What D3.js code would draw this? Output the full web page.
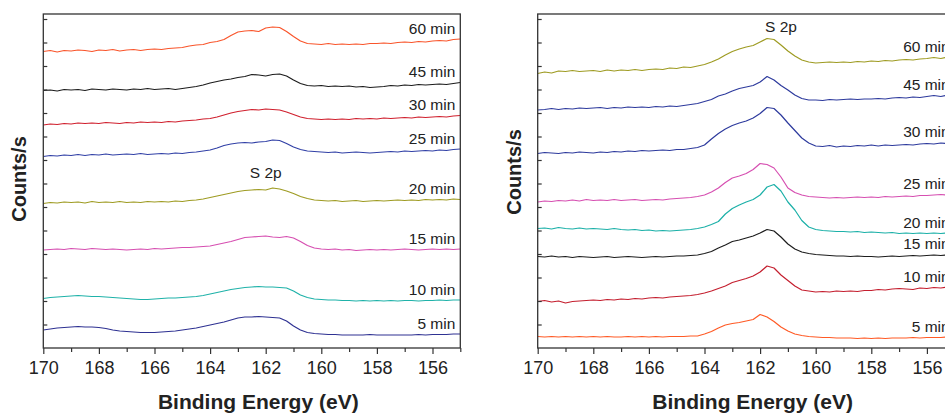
<!DOCTYPE html>
<html>
<head>
<meta charset="utf-8">
<script src="https://cdn.jsdelivr.net/npm/d3@7/dist/d3.min.js"></script>
<style>
  html, body { margin: 0; padding: 0; background: #fff; }
  svg { display: block; }
  text { font-family: "Liberation Sans", Arial, Helvetica, sans-serif; }
</style>
</head>
<body>
<svg id="chart" width="945" height="416"></svg>
<script>
// ---------- DATA ----------
// Binding energy grid: 170 eV down to 155 eV, step 0.25 eV (61 points)
const energyStart = 170, energyStep = 0.25;
const xTickMajor = [170, 168, 166, 164, 162, 160, 158, 156];
const xTickMinor = [169, 167, 165, 163, 161, 159, 157, 155];

const leftLabels  = ["60 min", "45 min", "30 min", "25 min", "20 min", "15 min", "10 min", "5 min"];
const leftColors  = ["#f9552b", "#1c1c1c", "#d0202e", "#3140a6", "#9e9b22", "#d64fb1", "#1fb2a9", "#2e3192"];
const rightLabels = ["60 min", "45 min", "30 min", "25 min", "20 min", "15 min", "10 min", "5 min"];
const rightColors = ["#9e9b22", "#2d3a9d", "#2d3a9d", "#d64fb1", "#1bb0a8", "#1c1c1c", "#c41e2e", "#ff5a25"];

// Counts/s (arbitrary units, offset stacked), left panel
const L60 = [296.5,297.5,296,297.5,297,298,297.5,296.5,298, 297.5,298.5,297,298,298.5,297.5,298.5,299, 298.5,299.5,300,300.5,
  302,303,303.5,305.5,306.5,308.5,312.5,316,317,317.5, 316.5,320,321,320.5,316.5,311.5,307,304.5,304,303.5,
  304.5,303.5,304,303.5,304,303.5,304.5,304.5,305,304.5, 305.5,306,305.5,306.5,306,307,307.5,307,308.5,309];
const L45 = [257.5,258,257,258.5,258,258.5,257.5,259,258.5, 258,259,258.5,258,259,258.5,259.5,258.5, 259,259.5,258.5,259.5,
  260.5,261.5,263,265,266.5,268,269,270.5,271.5,273.5, 273,272,273.5,274,272,268,264.5,262.5,262,262.5,
  261.5,262,261.5,262,261,261.5,260.5,261,261.5,262.5, 262,263,262.5,263.5,263,263.5,264,263.5,264.5,265.5];
const L30 = [223,224,223.5,224.5,224,225,224.5,225,224.5, 225.5,225,224.5,225.5,225,226,225.5,226, 225.5,226.5,226,227,
  227.5,228,229,229.5,231,233,235,236.5,237.5,238.5, 238,239,238.5,238,236,233.5,231,229.5,229,228.5,
  229,228.5,229,228.5,229.5,229,229.5,229,230,229.5, 230,230.5,230,231,230.5,231,231.5,231,232,232.5];
const L25 = [191.5,192.5,192,193,192.5,193.5,192.5,193.5,193, 194,193,193.5,194,193.5,194.5,193.5,194, 194.5,194,195,194.5,
  195.5,196,197,198,200,202.5,204,205,205.5,205, 206,206.5,208,207.5,204.5,201,198.5,197,196.5,196,
  195.5,196,195,195.5,196,195.5,195,195.5,196,196.5, 196,197,196.5,197,197.5,197,198,197.5,198.5,199];
const L20 = [144.5,145.5,145,146,145.5,146,145,146.5,145.5, 146,145.5,146.5,145.5,146,145.5,146.5,146, 146.5,146,147,146.5,
  147.5,148,149,150.5,152,153.5,155,156.5,157.5,158, 158.5,158,160,159,157,154.5,151.5,149.5,148,147.5,
  147,147.5,146.5,147,147.5,146.5,147,147.5,147,147.5, 148,147.5,148,147.5,148.5,148,148.5,148,149,148.5];
const L15 = [98,98.5,99,98.5,99.5,99,98.5,99.5,99, 98.5,99,98.5,98,98.5,99,98.5,99.5, 99,99.5,100,100.5,
  100.5,101,101.5,102,103.5,105,106.5,108.5,110.5,111, 111.5,112,111,110.5,111.5,110,106.5,102.5,100,99,
  98.5,99,98,98.5,97.5,98,98.5,98,98.5,98, 98.5,99,98.5,98,98.5,99,98.5,99,98.5,99];
const L10 = [49.5,50.5,51,51.5,52,52.5,52,51.5,51.5, 51,50.5,50,49.5,49,48.5,48.5,49, 49.5,50,50,50.5,
  51,51.5,52.5,54,55.5,57,58.5,59.5,60.5,61, 61.5,61,61,60.5,60,57,53,50.5,49,48.5,
  48,48,47.5,47.5,47,47.5,47,47.5,47,47.5, 47,47.5,47.5,47,47.5,47.5,48,47.5,48,48];
const L5 = [18,19,20,20.5,21,21.5,21,21,20.5, 19.5,18,17,16.5,16,15.5,15.5,15.5, 16,16.5,17,18,
  19,20,21.5,23,24.5,26,28,30,31,31, 31.5,31,30.5,30,27,22,18,15.5,14.5,14,
  13.5,13.5,13,13,13,13,13.5,13,13,13, 13,13,13,13.5,13,13.5,13.5,13.5,14,14];

// right panel
const R60 = [274.5,276,275,277,276.5,277.5,276.5,277,277.5, 276.5,278,277,278,277.5,278.5,277.5,278.5, 279,278.5,280,279.5,
  281,280.5,282,283.5,286,289,293,296.5,299,301, 302.5,306,309.5,308.5,303,297,292,288,286,285,
  285.5,286,285.5,286,285.5,286.5,286,287,286.5,287.5, 287,288,288.5,288,289,289.5,290.5,289.5,291,291];
const R45 = [238,238.5,239.5,238.5,239.5,239,240,239.5,240, 240.5,239.5,240.5,240,241,240.5,241,240.5, 241.5,241,242,241.5,
  242.5,243.5,244.5,246.5,248.5,252,254,257,259.5,261, 262.5,266,271.5,268,262.5,258,253,249.5,248,248,
  247.5,248.5,248,248.5,249,248.5,249,249,249.5,249, 250,250.5,250,251,250.5,251.5,252.5,251.5,253,253];
const R30 = [194.5,195.5,195,194.5,195.5,195,196,195.5,195, 196,195.5,196.5,196,197,196.5,197.5,197, 197.5,198,197.5,198.5,
  198.5,199.5,200.5,203,209,214.5,219,222.5,225,227, 230,234.5,240.5,239.5,233,225,217.5,210,205,202,
  201.5,202.5,201,202,201.5,202.5,202,203,202,203, 202.5,203,203.5,203,204,204.5,204,205,204.5,205.5];
const R25 = [146,147,146.5,147.5,147,148,147,148.5,147.5, 148,147.5,148.5,147.5,148,148.5,147.5,148, 148.5,148,149,149.5,
  150,150.5,151.5,153,156,160,165.5,170,172,174.5, 178.5,184.5,183.5,180,171,160,155.5,153,151.5,151,
  150.5,150,150.5,150,150.5,151,150.5,151,150.5,151.5, 151,151.5,152,151.5,152.5,152.5,153,153.5,153,154];
const R20 = [119.5,120,119,120.5,119.5,119,120,119,119.5, 119,118.5,119.5,118.5,118,118.5,117.5,118, 117,117.5,117,117.5,
  118,118.5,119.5,121,123.5,126.5,134,139.5,143,146, 148.5,153,161,163.5,157,146,138,127.5,121,118.5,
  117.5,117,116.5,116.5,116,116.5,115.5,116,115.5,115, 115.5,114.5,115,114.5,115,114.5,115,114.5,115,114.5];
const R15 = [91.5,91,92,91,91.5,90.5,91.5,91,90.5, 91,91.5,90.5,91,91.5,91,90.5,91, 91.5,91,91.5,92,
  92,92.5,93,94.5,96.5,100,103,106.5,108,110, 112,115,118.5,117,111,104,99,96,94.5,93.5,
  93,92.5,92,92,91.5,92,91.5,91.5,91,91.5, 92,91.5,92,92.5,92,92.5,93,92.5,93,93.5];
const R10 = [46.5,47.5,46,47,45,46.5,47,47.5,48, 47.5,48.5,48,49,48.5,49.5,49,50, 50.5,50,51,51.5,
  52,52.5,53.5,55,57,59.5,62,65.5,67.5,69.5, 72,76,82,80,73,67.5,62,58,57,56,
  56.5,56,57,56.5,57,56.5,57.5,57.5,58.5,58, 59,59.5,59,58.5,60,59.5,60.5,60,61,60.5];
const R5 = [11.5,11,11.5,11,11.5,11,11.5,11,11.5, 11,11.5,11,11,11.5,11,11.5,11, 11.5,11,11.5,11.5,
  11.5,12,12,14,16.5,20,23,24.5,25.5,27, 28.5,33.5,31,26.5,21,17,14,12.5,11.5,11,
  10.5,10.5,10,10,10,9.5,10,9.5,10,9.5, 10,10,10,10.5,10,10.5,10.5,10.5,11,11];

const leftSeries  = [L60, L45, L30, L25, L20, L15, L10, L5];
const rightSeries = [R60, R45, R30, R25, R20, R15, R10, R5];

// ---------- DRAW ----------
const svg = d3.select("#chart");
const plotTop = 14, plotBottom = 348, plotWidth = 417;
const axisColor = "#333";
const font = '"Liberation Sans", Arial, Helvetica, sans-serif';

function drawPanel(x0, series, labels, colors, peakLabel, yLabelPos) {
  const x = d3.scaleLinear().domain([170, 155]).range([x0, x0 + plotWidth]);
  const y = d3.scaleLinear().domain([0, 334]).range([plotBottom, plotTop]);
  const g = svg.append("g");

  // lines
  const line = d3.line()
    .x((d, i) => x(energyStart - energyStep * i))
    .y(d => y(d));
  series.forEach((s, k) => {
    g.append("path").datum(s)
      .attr("fill", "none")
      .attr("stroke", colors[k])
      .attr("stroke-width", 1.2)
      .attr("stroke-linejoin", "round")
      .attr("d", line);
  });

  // frame
  g.append("rect")
    .attr("x", x0).attr("y", plotTop)
    .attr("width", plotWidth).attr("height", plotBottom - plotTop)
    .attr("fill", "none").attr("stroke", axisColor).attr("stroke-width", 1.3);

  // x axis major ticks with labels
  const axMajor = d3.axisBottom(x).tickValues(xTickMajor).tickSize(6).tickPadding(7.5)
    .tickFormat(d3.format("d"));
  const gx = g.append("g").attr("transform", `translate(0,${plotBottom})`).call(axMajor);
  gx.select(".domain").remove();
  gx.selectAll("line").attr("stroke", axisColor).attr("stroke-width", 1.2);
  gx.selectAll("text").attr("font-size", 18).attr("fill", "#222").style("font-family", font);

  const axMinor = d3.axisBottom(x).tickValues(xTickMinor).tickSize(4).tickFormat("");
  const gm = g.append("g").attr("transform", `translate(0,${plotBottom})`).call(axMinor);
  gm.select(".domain").remove();
  gm.selectAll("line").attr("stroke", axisColor).attr("stroke-width", 1.2);

  // y axis inward ticks, no labels
  const yTicks = d3.range(23.5, 334, 23.5);
  const ay = d3.axisLeft(y).tickValues(yTicks).tickSize(-4).tickFormat("");
  const gy = g.append("g").attr("transform", `translate(${x0},0)`).call(ay);
  gy.select(".domain").remove();
  gy.selectAll("line").attr("stroke", axisColor).attr("stroke-width", 1.2);

  // series labels
  series.forEach((s, k) => {
    g.append("text")
      .attr("x", x0 + plotWidth - 5)
      .attr("y", y(s[s.length - 1]) - 5.5)
      .attr("text-anchor", "end")
      .attr("font-size", 15.5)
      .attr("fill", "#222")
      .text(labels[k]);
  });

  // peak label
  g.append("text")
    .attr("x", x(peakLabel.e)).attr("y", y(peakLabel.v))
    .attr("text-anchor", "middle")
    .attr("font-size", 15.5).attr("fill", "#222")
    .text("S 2p");

  // axis titles
  g.append("text")
    .attr("x", x0 + 215).attr("y", 409)
    .attr("text-anchor", "middle")
    .attr("font-size", 21).attr("font-weight", "bold").attr("fill", "#222")
    .text("Binding Energy (eV)");

  g.append("text")
    .attr("transform", `translate(${yLabelPos.x},${yLabelPos.y}) rotate(-90)`)
    .attr("text-anchor", "middle")
    .attr("font-size", 20).attr("font-weight", "bold").attr("fill", "#222")
    .text("Counts/s");
}

drawPanel(43.3, leftSeries, leftLabels, leftColors, {e: 162.0, v: 170}, {x: 26, y: 179});
drawPanel(537.7, rightSeries, rightLabels, rightColors, {e: 161.25, v: 316}, {x: 521, y: 172});
</script>
</body>
</html>
